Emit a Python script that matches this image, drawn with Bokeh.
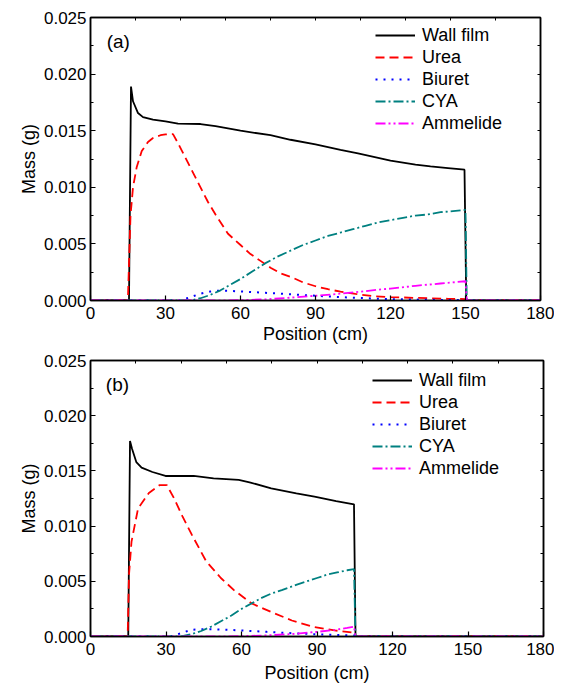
from bokeh.plotting import figure
from bokeh.models import Range1d, LinearAxis, FixedTicker, Label, PrintfTickFormatter
from bokeh.layouts import column
from bokeh.embed import file_html
from bokeh.resources import INLINE

# ---------------- data: panel (a) ----------------
wall_x_a = [0, 15.4, 16.2, 17, 19, 21, 25, 30, 35, 44, 50, 60, 72, 80, 90, 100, 107, 120, 130, 136, 143, 149.6, 150.3, 151, 180]
wall_y_a = [0, 0, 0.0189, 0.0176, 0.01656, 0.0162, 0.01597, 0.01582, 0.01562, 0.01559, 0.01540, 0.0150, 0.0146, 0.0142,
            0.0138, 0.0133, 0.0130, 0.01235, 0.0120, 0.01185, 0.0117, 0.01156, 0, 0, 0]

urea_x_a = [0, 14.5, 15.0, 15.5, 16, 17, 18.5, 20.5, 23, 25, 28, 30, 33, 35, 38, 41, 44, 47, 50, 55, 60, 64, 68, 72, 76,
            81, 85, 90, 95, 100, 106, 113, 120, 129, 136, 143, 150, 150.5, 180]
urea_y_a = [0, 0, 0.0003, 0.004, 0.0075, 0.0100, 0.0118, 0.0132, 0.0140, 0.01435, 0.0146, 0.01468, 0.0147, 0.0139,
            0.0126, 0.0113, 0.0100, 0.0087, 0.0076, 0.0059, 0.0049, 0.0041, 0.0035, 0.0029, 0.0024, 0.0020, 0.0016,
            0.00126, 0.0010, 0.00078, 0.00058, 0.00038, 0.00030, 0.00024, 0.0002, 0.00015, 0.00013, 0, 0]

biuret_x_a = [0, 36, 40, 44, 48, 52, 56, 60, 70, 80, 90, 100, 110, 120, 135, 150, 150.5, 180]
biuret_y_a = [0, 0, 0.0003, 0.0006, 0.0008, 0.00088, 0.00085, 0.0008, 0.00068, 0.00055, 0.00042, 0.0003, 0.0002,
              0.00012, 0.00006, 0.00003, 0, 0]

cya_x_a = [0, 40, 44, 48, 52, 56, 60, 65, 70, 75, 80, 85, 90, 95, 100, 105, 110, 115, 120, 125, 130, 135, 140, 145,
           150, 150.5, 180]
cya_y_a = [0, 0, 0.0002, 0.0005, 0.0009, 0.0014, 0.0019, 0.0026, 0.0033, 0.0039, 0.0044, 0.0049, 0.0053, 0.0057,
           0.0060, 0.0063, 0.0066, 0.0069, 0.0071, 0.0073, 0.0075, 0.0076, 0.0078, 0.0079, 0.0080, 0, 0]

amm_x_a = [0, 55, 60, 70, 80, 90, 100, 110, 115, 120, 130, 140, 150, 150.5, 180]
amm_y_a = [0, 0, 0.00003, 0.0001, 0.00025, 0.00042, 0.0006, 0.00082, 0.00095, 0.00105, 0.0013, 0.0015, 0.0017, 0, 0]

# ---------------- data: panel (b) ----------------
wall_x_b = [0, 15.0, 15.7, 16.5, 18.2, 20.3, 24.6, 29.8, 34.6, 41, 48.9, 58.9, 63.2, 71.8, 81.8, 89, 97.6, 104.7,
            105.3, 106, 180]
wall_y_b = [0, 0, 0.0177, 0.0170, 0.0158, 0.0153, 0.0149, 0.01454, 0.01454, 0.01454, 0.01433, 0.01418, 0.01397,
            0.01342, 0.01297, 0.01267, 0.01227, 0.01197, 0, 0, 0]

urea_x_b = [0, 14.3, 14.8, 15.3, 16.3, 18.9, 23.2, 27.5, 30.3, 33.2, 36.5, 40.3, 46, 51.8, 57, 64, 72, 80, 89, 97,
            104.7, 105.3, 180]
urea_y_b = [0, 0, 0.0004, 0.0056, 0.0086, 0.0116, 0.0130, 0.01372, 0.01372, 0.01252, 0.0109, 0.0092, 0.0068, 0.0053,
            0.0042, 0.0030, 0.0022, 0.00145, 0.00085, 0.00055, 0.00035, 0, 0]

biuret_x_b = [0, 32, 36, 40, 44, 48, 55, 62, 70, 80, 90, 100, 104.7, 105.3, 180]
biuret_y_b = [0, 0, 0.0003, 0.0006, 0.00066, 0.00066, 0.0006, 0.00052, 0.00042, 0.0003, 0.0002, 0.00012, 0.0001, 0, 0]

cya_x_b = [0, 36, 40, 44, 48, 52, 56, 60, 64, 68, 72, 76, 82, 86, 90, 94, 98, 102, 104.7, 105.3, 180]
cya_y_b = [0, 0, 0.0002, 0.0005, 0.0009, 0.0014, 0.0019, 0.0025, 0.0030, 0.0035, 0.0039, 0.0042, 0.0047, 0.0050,
           0.0053, 0.0056, 0.0058, 0.0060, 0.0061, 0, 0]

amm_x_b = [0, 55, 60, 70, 80, 90, 97, 102, 104.7, 105.3, 180]
amm_y_b = [0, 0, 0.00003, 0.0001, 0.00022, 0.00042, 0.0006, 0.00078, 0.0009, 0, 0]

series_names = ["Wall film", "Urea", "Biuret", "CYA", "Ammelide"]
x_ticks = [0, 30, 60, 90, 120, 150, 180]
top_ticks = [0, 18, 36, 54, 72, 90, 108, 126, 144, 162, 180]
y_ticks = [0.0, 0.005, 0.010, 0.015, 0.020, 0.025]
y_minor = [0.0025, 0.0075, 0.0125, 0.0175, 0.0225]

FONT = "Liberation Sans"
styles = [
    dict(color="black", line_width=1.8, line_dash="solid"),
    dict(color="#FF0000", line_width=1.8, line_dash="9 5"),
    dict(color="#0000FF", line_width=2.0, line_dash="2 6"),
    dict(color="#008080", line_width=1.8, line_dash="10 3 2 3"),
    dict(color="#FF00FF", line_width=1.8, line_dash="10 3 2 3 2 3"),
]


def blank_axis(ticks):
    ax = LinearAxis(ticker=FixedTicker(ticks=ticks),
                    major_label_overrides={t: "" for t in ticks},
                    major_label_text_font_size="8px",
                    major_tick_in=3, major_tick_out=0, minor_tick_line_color=None,
                    axis_line_color="black", axis_line_width=1.5, major_label_standoff=0)
    return ax


def make_panel(data, tag, tag_xy, frame_w, frame_h, b_top, b_bottom, b_right, legend_loc, title_standoff):
    p = figure(frame_width=frame_w, frame_height=frame_h,
               x_range=Range1d(0, 180), y_range=Range1d(0, 0.025),
               output_backend="svg", toolbar_location=None,
               min_border_left=90, min_border_right=b_right,
               min_border_top=b_top, min_border_bottom=b_bottom,
               background_fill_color="white", border_fill_color="white")
    p.grid.visible = False
    p.outline_line_color = "black"
    p.outline_line_width = 1.5

    for (xs, ys), name, st in zip(data, series_names, styles):
        p.line(xs, ys, legend_label=name, **st)

    xa = p.xaxis[0]
    xa.ticker = FixedTicker(ticks=x_ticks)
    xa.axis_label = "Position (cm)"
    ya = p.yaxis[0]
    ya.ticker = FixedTicker(ticks=y_ticks, minor_ticks=y_minor)
    ya.formatter = PrintfTickFormatter(format="%.3f")
    ya.axis_label = "Mass (g)"
    for ax in (xa, ya):
        ax.axis_line_color = "black"
        ax.axis_line_width = 1.5
        ax.major_tick_in = 5
        ax.major_tick_out = 0
        ax.major_tick_line_width = 1.2
        ax.minor_tick_in = 3
        ax.minor_tick_out = 0
        ax.major_label_text_font = FONT
        ax.major_label_text_font_size = "17px"
        ax.major_label_text_color = "black"
        ax.axis_label_text_font = FONT
        ax.axis_label_text_font_size = "18px"
        ax.axis_label_text_font_style = "normal"
        ax.axis_label_text_color = "black"
        ax.axis_label_standoff = 2
    xa.axis_label_standoff = title_standoff
    xa.major_label_standoff = 6
    ya.major_label_standoff = 4
    xa.minor_tick_line_color = None

    p.add_layout(blank_axis(top_ticks), "above")
    p.add_layout(blank_axis(y_minor + y_ticks), "right")

    lg = p.legend[0]
    lg.location = legend_loc
    lg.border_line_color = None
    lg.background_fill_alpha = 0
    lg.padding = 0
    lg.margin = 0
    lg.spacing = 0
    lg.glyph_width = 40
    lg.glyph_height = 22
    lg.label_height = 22
    lg.label_standoff = 7
    lg.label_text_font = FONT
    lg.label_text_font_size = "18px"
    lg.label_text_color = "black"

    p.add_layout(Label(x=tag_xy[0], y=tag_xy[1], text=tag, text_align="center", text_baseline="middle",
                       text_font=FONT, text_font_size="19px", text_color="black"))
    return p


data_a = [(wall_x_a, wall_y_a), (urea_x_a, urea_y_a), (biuret_x_a, biuret_y_a), (cya_x_a, cya_y_a), (amm_x_a, amm_y_a)]
data_b = [(wall_x_b, wall_y_b), (urea_x_b, urea_y_b), (biuret_x_b, biuret_y_b), (cya_x_b, cya_y_b), (amm_x_b, amm_y_b)]

pa = make_panel(data_a, "(a)", (11.1, 0.0229), 450, 283, 17, 40, 14, (285, 166), 2)
pb = make_panel(data_b, "(b)", (10.7, 0.0228), 453, 276, 14, 44, 11, (282, 157), 5)

layout = column(pa, pb, spacing=0)
open("out.html", "w").write(file_html(layout, INLINE))
